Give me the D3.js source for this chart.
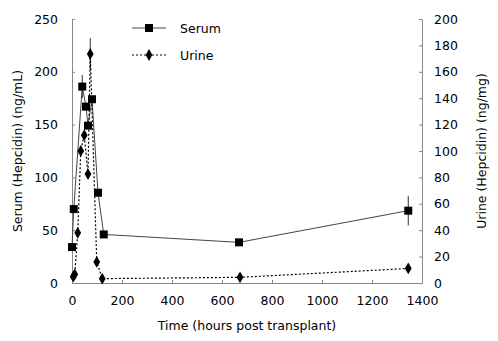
<!DOCTYPE html>
<html><head><meta charset="utf-8">
<script src="https://cdn.jsdelivr.net/npm/d3@7"></script>
<style>body{margin:0;background:#fff}svg{display:block}text{font-family:"DejaVu Sans",Verdana,sans-serif;fill:#000}</style>
</head><body><svg id="c" width="498" height="341"></svg>
<script>
const serumTime = [0, 7, 41, 56, 64, 80, 104, 127, 668, 1345];
const serumVal  = [34, 70, 186, 167, 149, 174, 85.5, 46, 38.5, 68.5];
const serumErr  = [0, 0, 11, 0, 0, 0, 0, 0, 0, 14];
const urineTime = [5, 11, 23, 35, 49, 64, 73, 99, 121, 672, 1345];
const urineVal  = [4.8, 6.6, 38, 100, 112, 82.5, 173.5, 16, 3.3, 4.3, 11];
const urineErr  = [0, 0, 0, 0, 0, 0, 12, 0, 0, 0, 0];
const xTicks = [0, 200, 400, 600, 800, 1000, 1200, 1400];
const leftTicks = [0, 50, 100, 150, 200, 250];
const rightTicks = [0, 20, 40, 60, 80, 100, 120, 140, 160, 180, 200];

const svg = d3.select("#c");
const L = 72, R = 422, T = 19, B = 283;
const x = d3.scaleLinear().domain([0, 1400]).range([L, R]);
const yL = d3.scaleLinear().domain([0, 250]).range([B, T]);
const yR = d3.scaleLinear().domain([0, 200]).range([B, T]);
const axisCol = "#888";
const fmt = d3.format("d");

// axes
const gx = svg.append("g").attr("transform", `translate(0,${B})`)
  .call(d3.axisBottom(x).tickValues(xTicks).tickFormat(fmt).tickSizeInner(-3).tickSizeOuter(0).tickPadding(13));
const gl = svg.append("g").attr("transform", `translate(${L},0)`)
  .call(d3.axisLeft(yL).tickValues(leftTicks).tickFormat(fmt).tickSizeInner(-3).tickSizeOuter(0).tickPadding(14));
const gr = svg.append("g").attr("transform", `translate(${R},0)`)
  .call(d3.axisRight(yR).tickValues(rightTicks).tickFormat(fmt).tickSizeInner(-3).tickSizeOuter(0).tickPadding(12));
[gx, gl, gr].forEach(g => {
  g.select(".domain").attr("stroke", axisCol);
  g.selectAll(".tick line").attr("stroke", axisCol);
  g.selectAll("text").attr("font-size", 12.5).attr("font-family", "DejaVu Sans, Verdana, sans-serif");
});

// axis titles
svg.append("text").attr("x", (L + R) / 2).attr("y", 330).attr("text-anchor", "middle")
  .attr("font-size", 12.5).text("Time (hours post transplant)");
svg.append("text").attr("transform", `translate(22,${(T + B) / 2}) rotate(-90)`).attr("text-anchor", "middle")
  .attr("font-size", 12.5).text("Serum (Hepcidin) (ng/mL)");
svg.append("text").attr("transform", `translate(486,${(T + B) / 2}) rotate(-90)`).attr("text-anchor", "middle")
  .attr("font-size", 12.5).text("Urine (Hepcidin) (ng/mg)");

const serum = serumTime.map((t, i) => ({ t, v: serumVal[i], e: serumErr[i] }));
const urine = urineTime.map((t, i) => ({ t, v: urineVal[i], e: urineErr[i] }));

// error bars
serum.filter(d => d.e > 0).forEach(d => {
  svg.append("line").attr("x1", x(d.t)).attr("x2", x(d.t)).attr("y1", yL(d.v - d.e)).attr("y2", yL(d.v + d.e)).attr("stroke", "#333");
});
urine.filter(d => d.e > 0).forEach(d => {
  svg.append("line").attr("x1", x(d.t)).attr("x2", x(d.t)).attr("y1", yR(d.v - d.e)).attr("y2", yR(d.v + d.e)).attr("stroke", "#333");
});

// lines
svg.append("path").datum(serum).attr("fill", "none").attr("stroke", "#444").attr("stroke-width", 1)
  .attr("d", d3.line().x(d => x(d.t)).y(d => yL(d.v)));
svg.append("path").datum(urine).attr("fill", "none").attr("stroke", "#000").attr("stroke-width", 1.2)
  .attr("stroke-dasharray", "2,2")
  .attr("d", d3.line().x(d => x(d.t)).y(d => yR(d.v)));

// markers
const sq = d3.symbol().type(d3.symbolSquare).size(64);
const dm = d3.symbol().type(d3.symbolDiamond).size(40);
svg.selectAll(".sq").data(serum).join("path").attr("d", sq)
  .attr("transform", d => `translate(${x(d.t)},${yL(d.v)})`).attr("fill", "#000");
svg.selectAll(".dm").data(urine).join("path").attr("d", dm)
  .attr("transform", d => `translate(${x(d.t)},${yR(d.v)})`).attr("fill", "#000");

// legend
const lg = svg.append("g");
lg.append("line").attr("x1", 132).attr("x2", 166).attr("y1", 28).attr("y2", 28).attr("stroke", "#444");
lg.append("path").attr("d", sq).attr("transform", "translate(149,28)").attr("fill", "#000");
lg.append("text").attr("x", 180).attr("y", 32.5).attr("font-size", 12.5).text("Serum");
lg.append("line").attr("x1", 132).attr("x2", 166).attr("y1", 55).attr("y2", 55).attr("stroke", "#000").attr("stroke-dasharray", "2,2");
lg.append("path").attr("d", dm).attr("transform", "translate(149,55)").attr("fill", "#000");
lg.append("text").attr("x", 180).attr("y", 59.5).attr("font-size", 12.5).text("Urine");
</script></body></html>
